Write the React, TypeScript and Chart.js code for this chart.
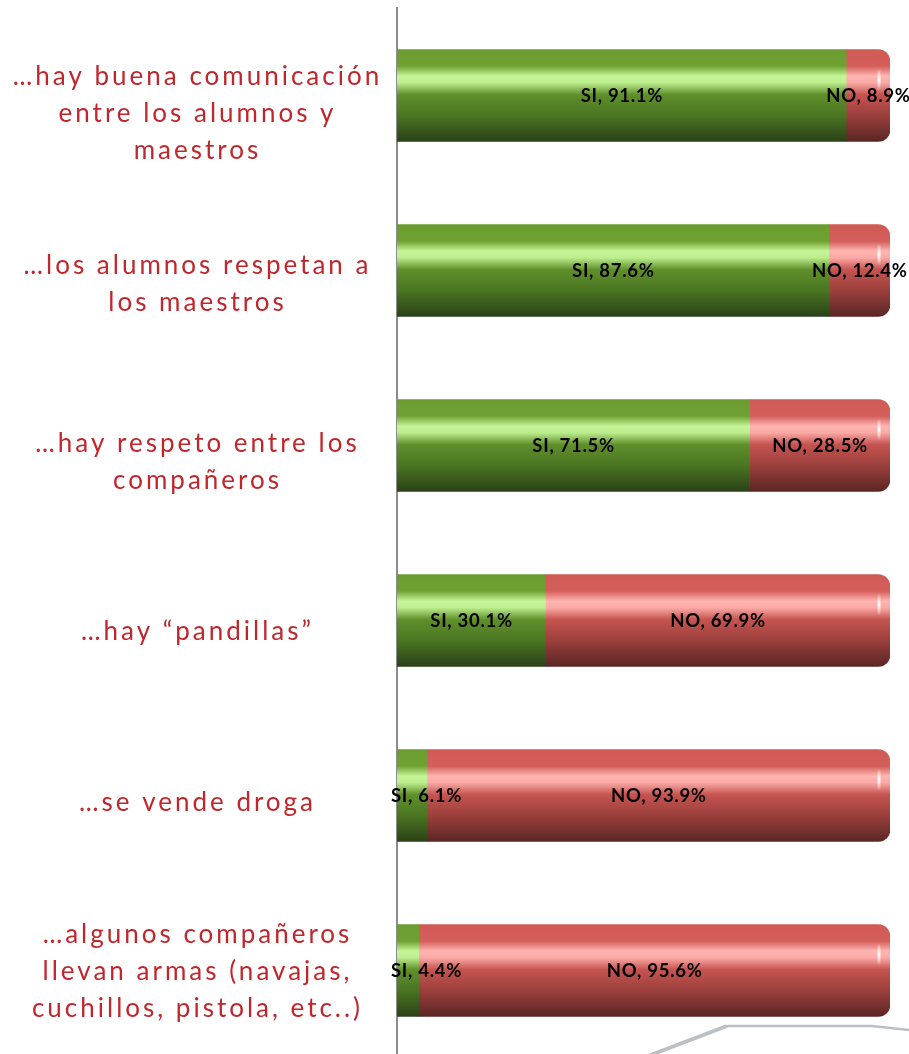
import React, { useEffect, useRef } from 'react';
import { Chart, registerables } from 'chart.js';

Chart.register(...registerables);

// ---------- data ----------
const categories: string[][] = [
  ['…hay buena comunicación', 'entre los alumnos y', 'maestros'],
  ['…los alumnos respetan a', 'los maestros'],
  ['…hay respeto entre los', 'compañeros'],
  ['…hay “pandillas”'],
  ['…se vende droga'],
  ['…algunos compañeros', 'llevan armas (navajas,', 'cuchillos, pistola, etc..)'],
];
const seriesNames = ['SI', 'NO'];
const siValues = [91.1, 87.6, 71.5, 30.1, 6.1, 4.4];
const noValues = [8.9, 12.4, 28.5, 69.9, 93.9, 95.6];

// ---------- style ----------
const RED_TEXT = '#c0272d';
const LABEL_FONT = '26px Lato';
const LABEL_SPACING = 3;
const LABEL_LINE_H = 37;
const LABEL_CX = 196;
const LABEL_SHIFT = [19, 14, 17, 12, 8, 2];
const BAR_THICK = 92;
const DATA_FONT = 'bold 18.5px Lato';
const DATA_SPACING = 0.7;

const GREEN_STOPS: [number, string][] = [
  [0, '#6a9c30'],
  [0.18, '#6fa132'],
  [0.29, '#c5f597'],
  [0.36, '#bdee8e'],
  [0.49, '#5f902b'],
  [0.72, '#4a7522'],
  [1, '#2b4118'],
];
const RED_STOPS: [number, string][] = [
  [0, '#cf5a56'],
  [0.18, '#d35e5a'],
  [0.29, '#ffb5b1'],
  [0.36, '#fbaaa6'],
  [0.49, '#c65450'],
  [0.72, '#9a3f3c'],
  [1, '#5a2624'],
];

function barGradient(c: any, stops: [number, string][], solid: string) {
  if (c.type !== 'data') return solid;
  const chart = c.chart;
  const y = chart.scales && chart.scales.y;
  if (!y || !chart.ctx) return solid;
  const center = y.getPixelForValue(c.dataIndex);
  if (!Number.isFinite(center)) return solid;
  const g = chart.ctx.createLinearGradient(0, center - BAR_THICK / 2, 0, center + BAR_THICK / 2);
  stops.forEach(([p, col]) => g.addColorStop(p, col));
  return g;
}

function spacedWidth(ctx: CanvasRenderingContext2D, text: string, sp: number) {
  (ctx as any).letterSpacing = '0px';
  const w = ctx.measureText(text).width + sp * ([...text].length - 1);
  (ctx as any).letterSpacing = sp + 'px';
  return w;
}

const categoryLabelPlugin = {
  id: 'categoryLabels',
  afterDraw(chart: any) {
    const { ctx } = chart;
    const yScale = chart.scales.y;
    ctx.save();
    ctx.font = LABEL_FONT;
    ctx.fillStyle = RED_TEXT;
    ctx.textAlign = 'left';
    ctx.textBaseline = 'alphabetic';
    categories.forEach((lines, i) => {
      const c = yScale.getPixelForValue(i) + LABEL_SHIFT[i];
      const n = lines.length;
      lines.forEach((line, j) => {
        const base = c + (j - (n - 1) / 2) * LABEL_LINE_H + 7.5;
        const w = spacedWidth(ctx, line, LABEL_SPACING);
        ctx.fillText(line, LABEL_CX - w / 2, base);
      });
    });
    ctx.restore();
  },
};

const barDecorPlugin = {
  id: 'barDecor',
  afterDatasetsDraw(chart: any) {
    const { ctx } = chart;
    const last = chart.data.datasets.length - 1;
    const meta = chart.getDatasetMeta(last);
    ctx.save();
    meta.data.forEach((bar: any) => {
      const { x, y } = bar.getProps(['x', 'y'], true);
      if (!Number.isFinite(x) || !Number.isFinite(y)) return;
      const hx = x - 11;
      const g = ctx.createLinearGradient(0, y - 27, 0, y - 5);
      g.addColorStop(0, 'rgba(255,255,255,0)');
      g.addColorStop(0.5, 'rgba(255,255,255,0.95)');
      g.addColorStop(1, 'rgba(255,255,255,0)');
      ctx.fillStyle = g;
      ctx.fillRect(hx - 1.5, y - 27, 3, 22);
    });
    // data labels
    ctx.font = DATA_FONT;
    ctx.fillStyle = '#000000';
    ctx.textAlign = 'left';
    ctx.textBaseline = 'alphabetic';
    const left = chart.chartArea.left;
    chart.data.datasets.forEach((ds: any, di: number) => {
      const m = chart.getDatasetMeta(di);
      m.data.forEach((bar: any, i: number) => {
        const { x, y, base } = bar.getProps(['x', 'y', 'base'], true);
        const cx = (x + base) / 2;
        const text = `${seriesNames[di]}, ${Number(ds.data[i]).toFixed(1)}%`;
        const w = spacedWidth(ctx, text, DATA_SPACING);
        const lx = Math.max(cx - w / 2, left - 6);
        ctx.fillText(text, lx, y + 6.5);
      });
    });
    ctx.restore();
  },
  afterDraw(chart: any) {
    const { ctx } = chart;
    ctx.save();
    ctx.strokeStyle = '#bcc0c4';
    ctx.lineJoin = 'round';
    ctx.lineWidth = 4;
    ctx.beginPath();
    ctx.moveTo(648, 1056);
    ctx.lineTo(727, 1026);
    ctx.stroke();
    ctx.lineWidth = 2.5;
    ctx.beginPath();
    ctx.moveTo(727, 1026);
    ctx.lineTo(872, 1026);
    ctx.lineTo(910, 1030);
    ctx.stroke();
    ctx.restore();
  },
};

export default function App() {
  const ref = useRef<HTMLCanvasElement>(null);
  useEffect(() => {
    if (!ref.current) return;
    const chart = new Chart(ref.current, {
      type: 'bar',
      data: {
        labels: categories.map((l) => l.join(' ')),
        datasets: [
          {
            label: seriesNames[0],
            data: siValues,
            backgroundColor: (c: any) => barGradient(c, GREEN_STOPS, '#5f902b'),
            borderWidth: 0,
            borderRadius: 0,
            barThickness: BAR_THICK,
          },
          {
            label: seriesNames[1],
            data: noValues,
            backgroundColor: (c: any) => barGradient(c, RED_STOPS, '#c65450'),
            borderWidth: 0,
            borderRadius: { topLeft: 0, bottomLeft: 0, topRight: 12, bottomRight: 12 },
            borderSkipped: false,
            barThickness: BAR_THICK,
          },
        ],
      },
      options: {
        indexAxis: 'y',
        responsive: false,
        animation: false,
        layout: { padding: { top: 8, right: 19, bottom: 0, left: 0 } },
        plugins: {
          legend: { display: false },
          tooltip: { enabled: false },
        },
        scales: {
          x: {
            stacked: true,
            min: 0,
            max: 100,
            display: false,
          },
          y: {
            stacked: true,
            grid: { display: false, drawTicks: false },
            border: { display: true, color: '#8c8c8c', width: 2 },
            ticks: { display: false },
            afterFit: (scale: any) => {
              scale.width = 397;
            },
          },
        },
      },
      plugins: [categoryLabelPlugin, barDecorPlugin],
    });
    return () => chart.destroy();
  }, []);
  return (
    <div
      style={{
        position: 'fixed',
        left: 0,
        top: 0,
        width: 909,
        height: 1054,
        overflow: 'hidden',
        background: '#ffffff',
      }}
    >
      <canvas ref={ref} width={909} height={1058} style={{ display: 'block' }} />
    </div>
  );
}
